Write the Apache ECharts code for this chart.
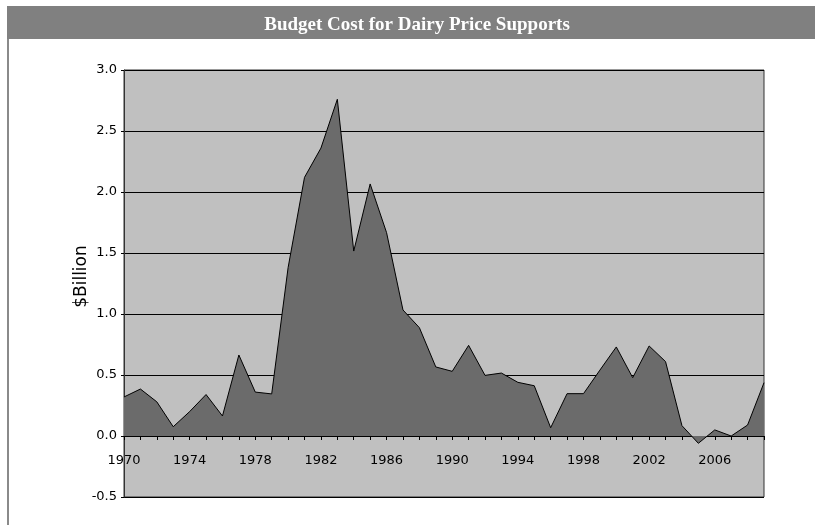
<!DOCTYPE html>
<html>
<head>
<meta charset="utf-8">
<script src="https://cdn.jsdelivr.net/npm/echarts@6/dist/echarts.min.js"></script>
<style>html,body{margin:0;padding:0;background:#fff}#c{width:815px;height:525px}</style>
</head>
<body>
<div id="c"></div>
<script>
var years = [];
for (var y = 1970; y <= 2009; y++) years.push(String(y));
var cost = [0.32,0.385,0.28,0.076,0.2,0.34,0.164,0.664,0.36,0.345,
            1.38,2.12,2.36,2.76,1.516,2.066,1.667,1.033,0.888,0.566,
            0.53,0.743,0.497,0.516,0.44,0.412,0.068,0.347,0.347,0.54,
            0.73,0.478,0.738,0.61,0.085,-0.06,0.05,0.0,0.09,0.437];
var titleText = 'Budget Cost for Dairy Price Supports';
var yName = '$Billion';

var chart = echarts.init(document.getElementById('c'), null, {renderer: 'canvas'});
chart.setOption({
  animation: false,
  backgroundColor: '#ffffff',
  graphic: [
    {type: 'rect', shape: {x: 7, y: 6, width: 808, height: 33}, style: {fill: '#808080'}, z: 0},
    {type: 'rect', shape: {x: 7, y: 39, width: 2, height: 486}, style: {fill: '#8a8a8a'}, z: 0}
  ],
  title: {
    text: titleText,
    left: 412, top: 11, textAlign: 'center',
    textStyle: {fontFamily: 'Liberation Serif', fontWeight: 'bold', fontSize: 19, color: '#ffffff'},
    z: 10
  },
  grid: {
    left: 124, right: 51, top: 70, bottom: 28,
    show: true, backgroundColor: '#c0c0c0', borderColor: '#333333', borderWidth: 1
  },
  xAxis: {
    type: 'category', data: years, boundaryGap: false,
    axisLine: {onZero: true, lineStyle: {color: '#000', width: 1}},
    axisTick: {show: true, interval: 0, length: 4, lineStyle: {color: '#000'}},
    axisLabel: {interval: 3, margin: -43, fontFamily: 'DejaVu Sans', fontSize: 13, color: '#000'},
    splitLine: {show: false}
  },
  yAxis: {
    type: 'value', min: -0.5, max: 3.0, interval: 0.5,
    name: yName, nameLocation: 'middle', nameGap: 34, nameMoveOverlap: false,
    nameTextStyle: {fontFamily: 'DejaVu Sans', fontSize: 17, color: '#000', padding: [0, 0, 0, 14]},
    axisLine: {show: true, lineStyle: {color: '#333', width: 1}},
    axisTick: {show: true, length: 3, lineStyle: {color: '#000'}},
    axisLabel: {margin: 7, fontFamily: 'DejaVu Sans', fontSize: 13, color: '#000',
      formatter: function (v) { return v.toFixed(1); }},
    splitLine: {show: true, lineStyle: {color: '#000', width: 1}}
  },
  series: [{
    type: 'line', data: cost, symbol: 'none', smooth: false,
    lineStyle: {color: '#000', width: 1},
    areaStyle: {color: '#6b6b6b', opacity: 1, origin: 0}
  }]
});
</script>
</body>
</html>
